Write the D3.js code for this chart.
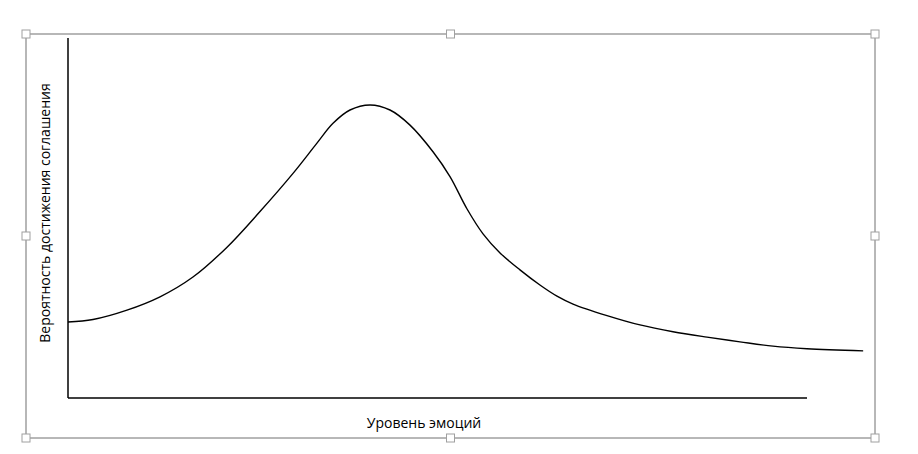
<!DOCTYPE html>
<html>
<head>
<meta charset="utf-8">
<script src="https://cdn.jsdelivr.net/npm/d3@7"></script>
<style>
  body { margin: 0; background: #fff; }
  svg { display: block; font-family: "Open Sans", "Noto Sans", sans-serif; }
</style>
</head>
<body>
<div id="chart"></div>
<script>
// emotion level (arbitrary units) and probability of agreement
var emotionLevel = [0, 3.38, 7.98, 12.45, 16.91, 21.52, 25.98, 30.45, 33.69, 35.86, 38.16, 40.87, 43.57, 46.28,
                    49.39, 51.69, 54.0, 56.16, 58.46, 61.16, 63.86, 66.17, 68.34, 72.94, 77.4, 81.87, 86.47, 90.93, 95.4, 100, 107.6];
var agreementProb = [21.1, 21.8, 24.4, 28.1, 33.6, 41.9, 51.8, 62.4, 70.8, 76.3, 80.0, 81.4, 80.0, 75.8,
                     68.4, 61.5, 52.5, 45.6, 40.3, 35.6, 31.4, 28.3, 26.1, 22.9, 20.3, 18.4, 16.9, 15.6, 14.4, 13.7, 13.1];
var xTitle = "Уровень эмоций";
var yTitle = "Вероятность достижения соглашения";

var width = 918, height = 454;
var svg = d3.select("#chart").append("svg")
    .attr("width", width)
    .attr("height", height);

var x = d3.scaleLinear().domain([0, 100]).range([68, 807]);
var y = d3.scaleLinear().domain([0, 100]).range([398, 38]);

// selection frame with handles
var frame = { x0: 26, y0: 34, x1: 875, y1: 438 };
svg.append("rect")
    .attr("x", frame.x0).attr("y", frame.y0)
    .attr("width", frame.x1 - frame.x0).attr("height", frame.y1 - frame.y0)
    .attr("fill", "none").attr("stroke", "#707070").attr("stroke-width", 1);

var mx = (frame.x0 + frame.x1) / 2, my = (frame.y0 + frame.y1) / 2;
var handles = [[frame.x0, frame.y0], [mx, frame.y0], [frame.x1, frame.y0],
               [frame.x0, my], [frame.x1, my],
               [frame.x0, frame.y1], [mx, frame.y1], [frame.x1, frame.y1]];
svg.selectAll("rect.handle").data(handles).enter().append("rect")
    .attr("class", "handle")
    .attr("x", function(d) { return d[0] - 4; })
    .attr("y", function(d) { return d[1] - 4; })
    .attr("width", 8).attr("height", 8)
    .attr("fill", "#fff").attr("stroke", "#a0a0a0");

// axes, plain lines without ticks
svg.append("line")
    .attr("x1", x(0)).attr("x2", x(0))
    .attr("y1", y(100)).attr("y2", y(0))
    .attr("stroke", "#000").attr("stroke-width", 1.5);
svg.append("line")
    .attr("x1", x(0)).attr("x2", x(100))
    .attr("y1", y(0)).attr("y2", y(0))
    .attr("stroke", "#000").attr("stroke-width", 1.5);

var pts = emotionLevel.map(function(d, i) { return [d, agreementProb[i]]; });
var line = d3.line()
    .x(function(d) { return x(d[0]); })
    .y(function(d) { return y(d[1]); })
    .curve(d3.curveCatmullRom.alpha(0.5));

svg.append("path")
    .datum(pts)
    .attr("d", line)
    .attr("fill", "none")
    .attr("stroke", "#000")
    .attr("stroke-width", 1.4);

svg.append("text")
    .attr("x", 424).attr("y", 428)
    .attr("text-anchor", "middle")
    .attr("font-size", 14)
    .text(xTitle);

svg.append("text")
    .attr("transform", "translate(50,213) rotate(-90)")
    .attr("text-anchor", "middle")
    .attr("font-size", 14)
    .text(yTitle);
</script>
</body>
</html>
